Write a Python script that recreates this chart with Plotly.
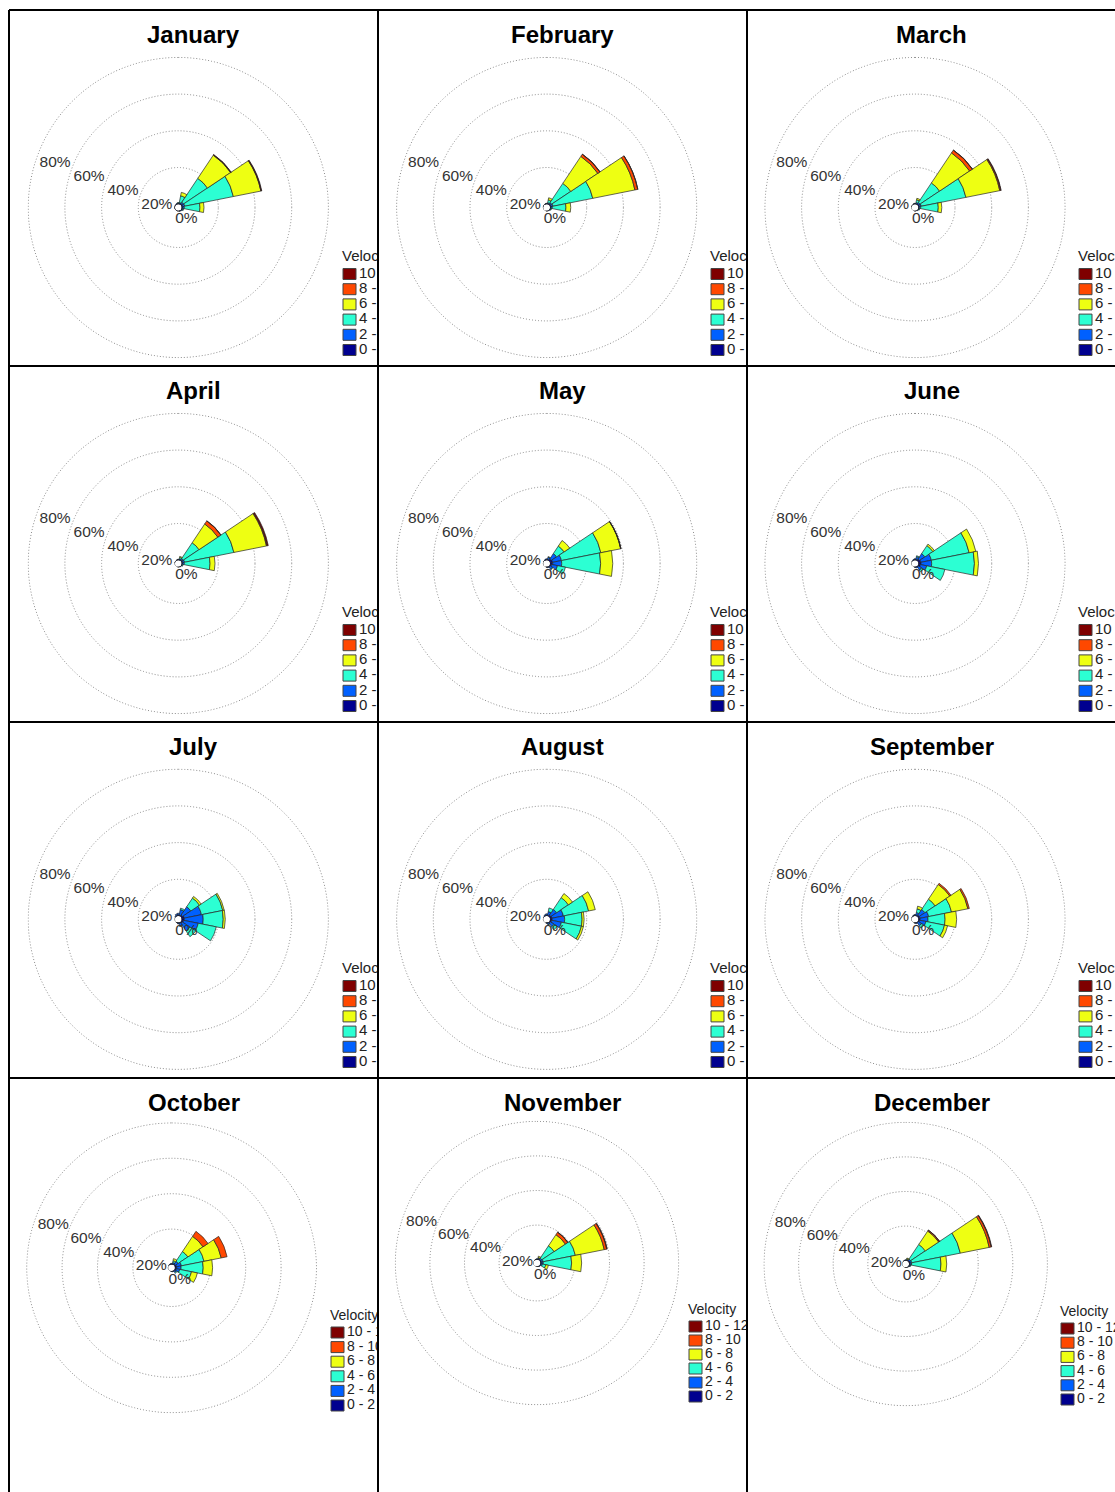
import plotly.graph_objects as go

# ---------------------------------------------------------------- data
MONTHS = ["January", "February", "March", "April", "May", "June",
          "July", "August", "September", "October", "November", "December"]

# 16 compass sectors (degrees clockwise from north)
DIRECTIONS = [0, 22.5, 45, 67.5, 90, 112.5, 135, 157.5,
              180, 202.5, 225, 247.5, 270, 292.5, 315, 337.5]

SPEED_BINS = ["0 - 2", "2 - 4", "4 - 6", "6 - 8", "8 - 10", "10 - 12"]
BIN_COLORS = ["#00008F", "#0060FF", "#2CFFD3", "#EEFF12", "#FF4800", "#7F0000"]
LEGEND_TITLE = "Velocity"

RING_VALUES = [0, 20, 40, 60, 80]
RING_LABELS = ["0%", "20%", "40%", "60%", "80%"]

# frequency (%) per speed bin (rows, 0-2 ... 10-12) and direction (columns N ... NNW)
jan = [
    [0.3, 0.4, 0.7, 0.7, 0.6, 0.4, 0.3, 0.2, 0.1, 0.1, 0.1, 0.1, 0.1, 0.1, 0.2, 0.3],
    [0.3, 0.6, 1.0, 1.1, 0.9, 0.5, 0.3, 0.1, 0, 0, 0, 0, 0, 0, 0.1, 0.2],
    [0.3, 3.7, 15.6, 27.0, 8.5, 0.4, 0, 0, 0, 0, 0, 0, 0, 0, 0, 0],
    [0, 1.9, 15.2, 15.3, 2.2, 0, 0, 0, 0, 0, 0, 0, 0, 0, 0, 0],
    [0, 0, 0.2, 0.2, 0, 0, 0, 0, 0, 0, 0, 0, 0, 0, 0, 0],
    [0, 0, 0.2, 0.3, 0, 0, 0, 0, 0, 0, 0, 0, 0, 0, 0, 0],
]
feb = [
    [0.3, 0.4, 0.6, 0.7, 0.5, 0.3, 0.2, 0.1, 0.1, 0, 0, 0, 0, 0.1, 0.1, 0.2],
    [0.2, 0.5, 0.9, 1.0, 0.8, 0.3, 0.2, 0, 0, 0, 0, 0, 0, 0, 0, 0.1],
    [0, 1.5, 12.5, 22.1, 7.4, 0.3, 0, 0, 0, 0, 0, 0, 0, 0, 0, 0],
    [0, 1.2, 17.7, 23.4, 2.6, 0, 0, 0, 0, 0, 0, 0, 0, 0, 0, 0],
    [0, 0, 1.4, 1.6, 0, 0, 0, 0, 0, 0, 0, 0, 0, 0, 0, 0],
    [0, 0, 0.1, 0.1, 0, 0, 0, 0, 0, 0, 0, 0, 0, 0, 0, 0],
]
mar = [
    [0.3, 0.4, 0.6, 0.7, 0.5, 0.3, 0.2, 0.1, 0.1, 0, 0, 0, 0, 0.1, 0.1, 0.2],
    [0.2, 0.6, 0.9, 1.0, 0.8, 0.3, 0.2, 0, 0, 0, 0, 0, 0, 0, 0, 0.1],
    [0, 1.5, 12.8, 24.8, 9.6, 0.3, 0, 0, 0, 0, 0, 0, 0, 0, 0, 0],
    [0, 0.8, 19.7, 18.8, 1.9, 0, 0, 0, 0, 0, 0, 0, 0, 0, 0, 0],
    [0, 0, 1.8, 0.5, 0, 0, 0, 0, 0, 0, 0, 0, 0, 0, 0, 0],
    [0, 0, 0.1, 0.3, 0, 0, 0, 0, 0, 0, 0, 0, 0, 0, 0, 0],
]
apr = [
    [0.3, 0.3, 0.6, 0.7, 0.6, 0.3, 0.2, 0.1, 0.1, 0, 0, 0, 0, 0.1, 0.1, 0.2],
    [0.2, 0.5, 0.9, 1.0, 0.9, 0.3, 0.2, 0, 0, 0, 0, 0, 0, 0, 0, 0.1],
    [0, 0.8, 10.3, 27.4, 14.0, 0.3, 0, 0, 0, 0, 0, 0, 0, 0, 0, 0],
    [0, 0.5, 12.3, 18.1, 2.7, 0, 0, 0, 0, 0, 0, 0, 0, 0, 0, 0],
    [0, 0, 2.0, 0.4, 0, 0, 0, 0, 0, 0, 0, 0, 0, 0, 0, 0],
    [0, 0, 0.1, 0.6, 0, 0, 0, 0, 0, 0, 0, 0, 0, 0, 0, 0],
]
may = [
    [0.3, 0.5, 1.2, 1.5, 1.5, 1.0, 0.5, 0.2, 0.1, 0, 0, 0, 0, 0, 0.1, 0.2],
    [0.5, 1.2, 3.5, 4.9, 4.9, 3.2, 1.5, 0.4, 0.1, 0, 0, 0, 0, 0, 0.1, 0.3],
    [0, 0.3, 4.9, 21.9, 21.2, 4.4, 0.3, 0, 0, 0, 0, 0, 0, 0, 0, 0],
    [0, 0, 3.7, 11.0, 6.6, 0, 0, 0, 0, 0, 0, 0, 0, 0, 0, 0],
    [0, 0, 0, 0.1, 0, 0, 0, 0, 0, 0, 0, 0, 0, 0, 0, 0],
    [0, 0, 0, 0.1, 0, 0, 0, 0, 0, 0, 0, 0, 0, 0, 0, 0],
]
jun = [
    [0.3, 0.5, 1.2, 1.5, 1.5, 1.2, 0.6, 0.2, 0.1, 0, 0, 0, 0, 0, 0.1, 0.2],
    [0.5, 1.5, 3.5, 5.8, 5.8, 3.5, 2.0, 0.5, 0.1, 0, 0, 0, 0, 0, 0.1, 0.3],
    [0, 0.5, 5.2, 21.0, 23.3, 10.1, 1.0, 0, 0, 0, 0, 0, 0, 0, 0, 0],
    [0, 0, 1.0, 3.7, 2.2, 0, 0, 0, 0, 0, 0, 0, 0, 0, 0, 0],
    [0, 0, 0, 0, 0, 0, 0, 0, 0, 0, 0, 0, 0, 0, 0, 0],
    [0, 0, 0, 0, 0, 0, 0, 0, 0, 0, 0, 0, 0, 0, 0, 0],
]
jul = [
    [0.5, 0.6, 1.0, 1.5, 1.5, 1.2, 0.8, 0.4, 0.2, 0.1, 0, 0, 0, 0, 0.2, 0.4],
    [1.0, 3.0, 5.4, 9.6, 10.3, 8.1, 5.0, 1.5, 0.5, 0.1, 0, 0, 0, 0, 0.3, 0.8],
    [0, 0.8, 5.7, 11.8, 10.9, 10.0, 3.8, 0.3, 0, 0, 0, 0, 0, 0, 0, 0],
    [0, 0, 1.1, 0.8, 1.1, 0, 0, 0, 0, 0, 0, 0, 0, 0, 0, 0],
    [0, 0, 0, 0, 0, 0, 0, 0, 0, 0, 0, 0, 0, 0, 0, 0],
    [0, 0, 0, 0, 0, 0, 0, 0, 0, 0, 0, 0, 0, 0, 0, 0],
]
aug = [
    [0.4, 0.5, 1.0, 1.2, 1.2, 1.0, 0.6, 0.3, 0.1, 0, 0, 0, 0, 0, 0.1, 0.3],
    [0.8, 2.0, 3.7, 6.3, 6.8, 5.4, 2.5, 0.8, 0.3, 0, 0, 0, 0, 0, 0.2, 0.5],
    [0, 2.0, 7.7, 14.0, 9.5, 11.1, 2.0, 0.2, 0, 0, 0, 0, 0, 0, 0, 0],
    [0, 0, 2.7, 3.7, 1.1, 1.1, 0, 0, 0, 0, 0, 0, 0, 0, 0, 0],
    [0, 0, 0, 0, 0, 0, 0, 0, 0, 0, 0, 0, 0, 0, 0, 0],
    [0, 0, 0, 0, 0, 0, 0, 0, 0, 0, 0, 0, 0, 0, 0, 0],
]
sep = [
    [0.3, 0.5, 1.0, 1.0, 1.0, 0.8, 0.5, 0.2, 0.1, 0, 0, 0, 0, 0, 0.1, 0.2],
    [0.5, 1.5, 3.7, 4.8, 4.3, 3.5, 2.0, 0.5, 0.2, 0, 0, 0, 0, 0, 0.1, 0.3],
    [0, 2.0, 6.7, 12.7, 9.3, 10.3, 1.5, 0, 0, 0, 0, 0, 0, 0, 0, 0],
    [0, 1.5, 9.6, 9.1, 6.3, 1.7, 0, 0, 0, 0, 0, 0, 0, 0, 0, 0],
    [0, 0, 0.8, 0.8, 0, 0, 0, 0, 0, 0, 0, 0, 0, 0, 0, 0],
    [0, 0, 0, 0, 0, 0, 0, 0, 0, 0, 0, 0, 0, 0, 0, 0],
]
oct_ = [
    [0.3, 0.4, 0.8, 1.0, 1.0, 0.8, 0.4, 0.2, 0.1, 0, 0, 0, 0, 0, 0.1, 0.2],
    [0.3, 0.8, 1.8, 2.8, 2.5, 2.0, 1.0, 0.3, 0.1, 0, 0, 0, 0, 0, 0.1, 0.2],
    [0, 1.0, 6.6, 13.0, 12.5, 6.8, 0.5, 0, 0, 0, 0, 0, 0, 0, 0, 0],
    [0, 1.2, 10.3, 9.9, 5.3, 3.4, 0, 0, 0, 0, 0, 0, 0, 0, 0, 0],
    [0, 0, 3.4, 3.4, 0, 0, 0, 0, 0, 0, 0, 0, 0, 0, 0, 0],
    [0, 0, 0, 0, 0, 0, 0, 0, 0, 0, 0, 0, 0, 0, 0, 0],
]
nov = [
    [0.3, 0.4, 0.6, 0.7, 0.7, 0.5, 0.3, 0.1, 0.1, 0, 0, 0, 0, 0, 0.1, 0.2],
    [0.2, 0.6, 0.9, 1.0, 1.0, 0.8, 0.3, 0.1, 0, 0, 0, 0, 0, 0, 0, 0.1],
    [0, 0.3, 8.5, 19.0, 16.4, 2.0, 0, 0, 0, 0, 0, 0, 0, 0, 0, 0],
    [0, 0.8, 7.8, 17.0, 5.8, 1.5, 0, 0, 0, 0, 0, 0, 0, 0, 0, 0],
    [0, 0, 1.7, 1.5, 0, 0, 0, 0, 0, 0, 0, 0, 0, 0, 0, 0],
    [0, 0, 0.1, 0.3, 0, 0, 0, 0, 0, 0, 0, 0, 0, 0, 0, 0],
]
dec = [
    [0.3, 0.3, 0.6, 0.7, 0.6, 0.3, 0.2, 0.1, 0.1, 0, 0, 0, 0, 0, 0.1, 0.2],
    [0.2, 0.5, 0.9, 1.0, 0.9, 0.5, 0.2, 0, 0, 0, 0, 0, 0, 0, 0, 0.1],
    [0, 0.3, 10.2, 28.6, 17.0, 0.3, 0, 0, 0, 0, 0, 0, 0, 0, 0, 0],
    [0, 0.5, 9.3, 17.0, 3.3, 0, 0, 0, 0, 0, 0, 0, 0, 0, 0, 0],
    [0, 0, 0.6, 1.2, 0, 0, 0, 0, 0, 0, 0, 0, 0, 0, 0, 0],
    [0, 0, 0.1, 0.3, 0, 0, 0, 0, 0, 0, 0, 0, 0, 0, 0, 0],
]
MONTHLY_FREQ = [jan, feb, mar, apr, may, jun, jul, aug, sep, oct_, nov, dec]

# ---------------------------------------------------------------- layout (pixels)
W, H = 1115, 1492
PANEL_W = 369
COL_LEFT = [9, 378, 747]
ROW_TOP = [10, 366, 722, 1078]
ROW_H = [356, 356, 356, 414]

# rose centre and radial scale (pixels per percent) for each panel
ROSE_CENTER = [(178.3, 207.5), (546.7, 207.5), (915.0, 207.5),
               (178.3, 563.5), (546.7, 563.5), (915.0, 563.5),
               (178.3, 919.3), (546.7, 919.3), (915.0, 919.3),
               (171.6, 1267.8), (537.0, 1263.0), (905.7, 1264.0)]
PX_PER_PCT = [1.835] * 9 + [1.77, 1.73, 1.73]
HOLE_PX = 3.3
R_MAX = 80.5
LABEL_DROP = 5.5  # ring labels hang just below their ring

# legend: swatch left x, title y, row step, font size
LEGEND_POS = [(343, 257.5, 15.2, 15), (711, 257.5, 15.2, 15), (1079, 257.5, 15.2, 15),
              (343, 613.5, 15.2, 15), (711, 613.5, 15.2, 15), (1079, 613.5, 15.2, 15),
              (343, 969.5, 15.2, 15), (711, 969.5, 15.2, 15), (1079, 969.5, 15.2, 15),
              (331, 1316, 14.6, 14), (689, 1310, 14.0, 14), (1061, 1312, 14.2, 14)]

FONT = "Liberation Sans, Arial, sans-serif"
RING_STYLE = dict(color="#8a8a8a", dash="1px,2px", width=1)


def px_x(x):
    return x / W


def px_y(y):
    return 1 - y / H


def polar_axes(show_grid):
    return dict(
        radialaxis=dict(range=[0, R_MAX], tickvals=RING_VALUES[1:], showticklabels=False,
                        ticks="", showline=False, showgrid=show_grid,
                        gridcolor=RING_STYLE["color"], griddash=RING_STYLE["dash"],
                        gridwidth=1),
        angularaxis=dict(direction="clockwise", rotation=90, showgrid=False,
                         showline=False, showticklabels=False, ticks=""),
    )


fig = go.Figure()
layout = dict(
    width=W, height=H, margin=dict(l=0, r=0, t=0, b=0),
    paper_bgcolor="white", plot_bgcolor="rgba(0,0,0,0)",
    showlegend=False, font=dict(family=FONT, color="#222"),
)
shapes, annotations = [], []
n = len(MONTHS)
circle_theta = [k * 2.5 for k in range(145)]

for i, (month, freq) in enumerate(zip(MONTHS, MONTHLY_FREQ)):
    row, col = divmod(i, 3)
    left, top, ph = COL_LEFT[col], ROW_TOP[row], ROW_H[row]
    right = min(left + PANEL_W, W)
    cx, cy = ROSE_CENTER[i]
    R = HOLE_PX + R_MAX * PX_PER_PCT[i]
    pname = "polar" if i == 0 else f"polar{i + 1}"
    lname = f"polar{n + i + 1}"

    layout[pname] = dict(
        domain=dict(x=[px_x(cx - R), px_x(cx + R)], y=[px_y(cy + R), px_y(cy - R)]),
        bgcolor="rgba(0,0,0,0)", hole=HOLE_PX / R, barmode="stack",
        **polar_axes(True))
    # same scale, used only for the ring labels
    layout[lname] = dict(
        domain=dict(x=[px_x(cx - R), px_x(cx + R)],
                    y=[px_y(cy + LABEL_DROP + R), px_y(cy + LABEL_DROP - R)]),
        bgcolor="rgba(0,0,0,0)", hole=HOLE_PX / R, **polar_axes(False))

    # stacked speed bins per sector
    for b, (name, color) in enumerate(zip(SPEED_BINS, BIN_COLORS)):
        th = [d for d, v in zip(DIRECTIONS, freq[b]) if v > 0]
        rv = [v for v in freq[b] if v > 0]
        fig.add_trace(go.Barpolar(
            r=rv, theta=th, width=22.5, name=name, subplot=pname,
            marker=dict(color=color, line=dict(color="#262626", width=0.7)),
            hoverinfo="skip"))

    # outermost ring (the grid stops short of the axis edge)
    fig.add_trace(go.Scatterpolar(
        r=[RING_VALUES[-1]] * len(circle_theta), theta=circle_theta, mode="lines",
        line=RING_STYLE, cliponaxis=False, subplot=pname, hoverinfo="skip"))

    # centre circle
    fig.add_trace(go.Scatterpolar(
        r=[0] * len(circle_theta), theta=circle_theta, mode="lines",
        line=dict(color="#333", width=1), cliponaxis=False,
        subplot=pname, hoverinfo="skip"))

    # percentage labels along the WNW ray
    fig.add_trace(go.Scatterpolar(
        r=RING_VALUES, theta=[292.5] * len(RING_VALUES), mode="text",
        text=RING_LABELS, textposition="bottom right", cliponaxis=False,
        textfont=dict(family=FONT, size=15.5, color="#333"),
        subplot=lname, hoverinfo="skip"))

    # cartesian overlay in pixel units, clipped to the panel, for the legend
    ax = "" if i == 0 else str(i + 1)
    layout[f"xaxis{ax}"] = dict(domain=[px_x(left), px_x(right)], range=[left, right],
                                visible=False, fixedrange=True, anchor=f"y{ax}")
    layout[f"yaxis{ax}"] = dict(domain=[px_y(top + ph), px_y(top)], range=[top + ph, top],
                                visible=False, fixedrange=True, anchor=f"x{ax}")
    lx, ly, step, fs = LEGEND_POS[i]
    ys = [ly + 16.5 + k * step for k in range(len(SPEED_BINS))]
    labels = [LEGEND_TITLE] + SPEED_BINS[::-1]
    fig.add_trace(go.Scatter(
        x=[lx - 1] + [lx + 16] * len(SPEED_BINS), y=[ly] + ys, mode="text",
        text=labels, textposition="middle right", cliponaxis=True,
        textfont=dict(family=FONT, size=fs, color="#222"),
        xaxis=f"x{ax}", yaxis=f"y{ax}", hoverinfo="skip"))
    for k, color in enumerate(BIN_COLORS[::-1]):
        shapes.append(dict(type="rect", xref=f"x{ax}", yref=f"y{ax}",
                           x0=lx, x1=lx + 13, y0=ys[k] - 5.5, y1=ys[k] + 5.5,
                           fillcolor=color, line=dict(color="#444", width=1)))

    # month title
    annotations.append(dict(text=f"<b>{month}</b>", xref="paper", yref="paper",
                            x=px_x(left + PANEL_W / 2), y=px_y(top + 24),
                            xanchor="center", yanchor="middle", showarrow=False,
                            font=dict(family=FONT, size=24, color="black")))

# panel frame lines
for y in ROW_TOP:
    shapes.append(dict(type="line", xref="paper", yref="paper", x0=px_x(9), x1=1,
                       y0=px_y(y), y1=px_y(y), line=dict(color="black", width=2)))
for x in COL_LEFT:
    shapes.append(dict(type="line", xref="paper", yref="paper", x0=px_x(x), x1=px_x(x),
                       y0=px_y(10), y1=0, line=dict(color="black", width=2)))

layout["shapes"] = shapes
layout["annotations"] = annotations
fig.update_layout(**layout)
fig.write_html("out.html")
